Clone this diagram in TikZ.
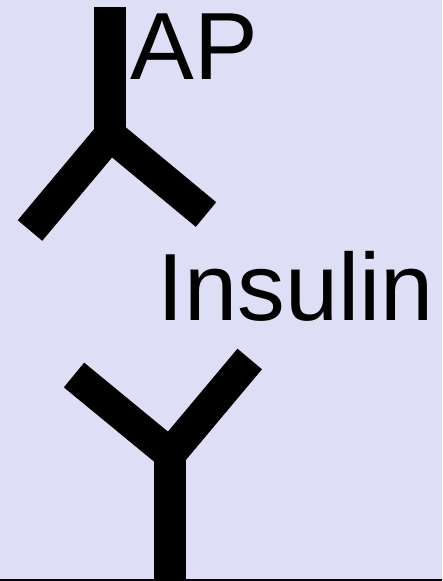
\documentclass[tikz,border=0pt]{standalone}
\usepackage{fontspec}
\setmainfont{Liberation Sans}
\usepackage{tikz}
\usetikzlibrary{positioning}
\definecolor{bgblue}{HTML}{DEDEF6}
\tikzset{
    antibody/.style = {draw=black, line width=24pt},
    label/.style = {inner sep=0pt, anchor=base west, text=black, font=\fontsize{71.6pt}{71.6pt}\selectfont},
}
\begin{document}
\begin{tikzpicture}[x=0.75pt, y=-0.75pt]
    \fill [bgblue] (0,0) rectangle (442,581);
    \useasboundingbox (0,0) rectangle (442,581);
    % upper antibody
    \coordinate (aptop) at (110,7);
    \coordinate (apfork) at (110,135);
    \coordinate (apleft) at (30,230.5);
    \coordinate (apright) at (206,214.5);
    \draw [antibody] (aptop) -- (apfork);
    \draw [antibody] (apleft) -- (apfork) -- (apright);
    % lower antibody
    \coordinate (insbottom) at (170,579);
    \coordinate (insfork) at (170,454);
    \coordinate (insleft) at (74,375);
    \coordinate (insright) at (249.7,359);
    \draw [antibody] (insbottom) -- (insfork);
    \draw [antibody] (insleft) -- (insfork) -- (insright);
    \draw [black, line width=1.5pt] (0,580) -- (442,580);
    \node [label] (ap) at (130.5,80) {AP};
    \node [label] (insulin) at (157.5,320) {Insulin};
\end{tikzpicture}
\end{document}
